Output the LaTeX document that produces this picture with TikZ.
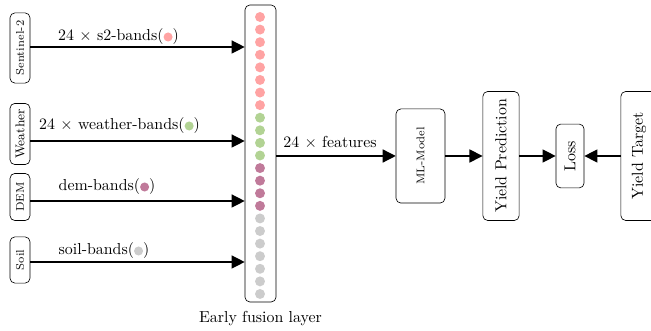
\documentclass[tikz,border=0pt]{standalone}
\usepackage{amsmath}
\usepackage{tikz}
\usetikzlibrary{positioning,arrows.meta}
\usepackage{xcolor}

\definecolor{sclr}{RGB}{255,163,163}
\definecolor{wclr}{RGB}{178,211,148}
\definecolor{dclr}{RGB}{192,122,154}
\definecolor{gclr}{RGB}{204,204,204}

\newcommand{\banddot}[1]{\tikz[baseline={(0,-2.5pt)}]\fill[#1] (0,0) circle (0.1cm);}

\begin{document}
\begin{tikzpicture}[
    x=0.0221cm, y=-0.0221cm,
    box/.style={draw, rounded corners=3pt, inner sep=1pt},
    src/.style={box, rotate=90, font=\scriptsize, minimum height=0.44cm},
    blk/.style={box, rotate=90, minimum height=0.8cm, minimum width=2.85cm},
    flow/.style={thick, -{Triangle[length=0.29cm,width=0.29cm]}},
    lbl/.style={inner sep=1pt}]

    \useasboundingbox (0,0) rectangle (651,331);

    % input sources
    \node[src, minimum width=1.55cm] (sen) at (20,48) {Sentinel-2};
    \node[src, font=\footnotesize, minimum width=1.35cm] (wea) at (20,134) {Weather};
    \node[src, minimum width=1.04cm] (dem) at (20,197) {DEM};
    \node[src, minimum width=1.02cm] (soil) at (20,260) {Soil};

    % fusion layer
    \node[box, minimum width=0.685cm, minimum height=6.56cm] (fusion) at (260.5,153.5) {};
    \foreach \c/\a/\b in {sclr/0/7, wclr/8/11, dclr/12/15, gclr/16/22}
        \foreach \i in {\a,...,\b}
            \fill[\c] (260,17+12.59*\i) circle (0.11cm);
    \node[below=2.4pt of fusion] (flab) {Early fusion layer};

    % model chain
    \node[box, rotate=90, font=\scriptsize, minimum width=2.08cm, minimum height=1.08cm] (mlm) at (420.5,156) {ML-Model};
    \node[blk] (pred) at (501,156) {Yield Prediction};
    \node[box, rotate=90, minimum width=1.41cm, minimum height=0.62cm] (loss) at (570,156) {Loss};
    \node[blk] (tgt) at (639,156) {Yield Target};

    % inputs into fusion
    \draw[flow] (sen.south |- 0,47) -- (fusion.west |- 0,47);
    \draw[flow] (wea.south |- 0,141) -- (fusion.west |- 0,141);
    \draw[flow] (dem.south |- 0,201) -- (fusion.west |- 0,201);
    \draw[flow] (soil.south |- 0,262) -- (fusion.west |- 0,262);

    \node[lbl] (l1) at (118.5,37) {24 $\times$ s2-bands(\banddot{sclr})};
    \node[lbl] (l2) at (119.5,126) {24 $\times$ weather-bands(\banddot{wclr})};
    \node[lbl] (l3) at (107,187) {dem-bands(\banddot{dclr})};
    \node[lbl] (l4) at (104,251) {soil-bands(\banddot{gclr})};

    \draw[flow] (fusion.east |- mlm.north) -- (mlm.north);
    \node[lbl] (l5) at (330,143) {24 $\times$ features};
    \draw[flow] (mlm.south) -- (pred.north);
    \draw[flow] (pred.south) -- (loss.north);
    \draw[flow] (tgt.north) -- (loss.south);

\end{tikzpicture}
\end{document}
